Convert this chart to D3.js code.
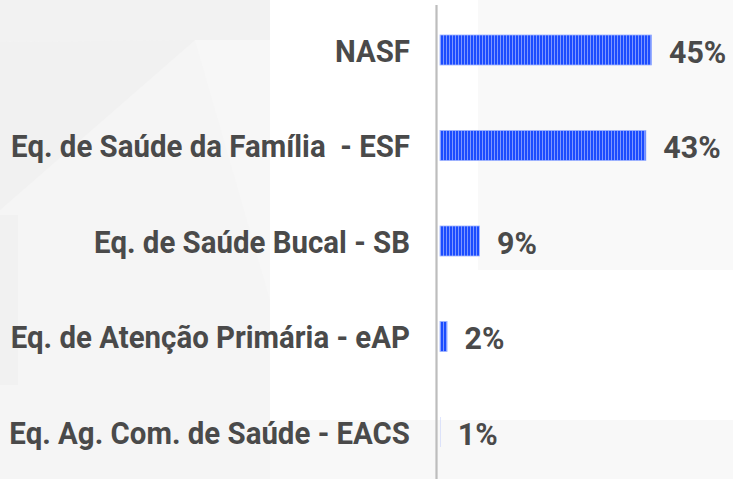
<!DOCTYPE html>
<html>
<head>
<meta charset="utf-8">
<script src="https://cdn.jsdelivr.net/npm/d3@7"></script>
<style>
  html, body { margin: 0; padding: 0; background: #ffffff; }
  svg { display: block; }
</style>
</head>
<body>
<svg id="chart" width="733" height="479"></svg>
<script>
// ---- data ----
const categories = [
  "NASF",
  "Eq. de Saúde da Família  - ESF",
  "Eq. de Saúde Bucal - SB",
  "Eq. de Atenção Primária - eAP",
  "Eq. Ag. Com. de Saúde - EACS"
];
const values = [45, 43.8, 8.4, 1.5, 0.05];
const valueLabels = ["45%", "43%", "9%", "2%", "1%"];

// ---- layout ----
const W = 733, H = 479;
const svg = d3.select("#chart");

// background decoration (subtle)
const bg = svg.append("g");
bg.append("rect").attr("x", 0).attr("y", 0).attr("width", W).attr("height", H).attr("fill", "#ffffff");
bg.append("rect").attr("x", 0).attr("y", 0).attr("width", 270).attr("height", H).attr("fill", "#f5f5f5");
bg.append("polygon").attr("points", "0,0 270,0 270,40 0,42").attr("fill", "#f2f2f2");
bg.append("polygon").attr("points", "0,42 195,40 0,210").attr("fill", "#f1f1f1");
bg.append("polygon").attr("points", "195,40 270,40 270,300").attr("fill", "#f7f7f7");
bg.append("polygon").attr("points", "0,215 18,215 18,385 0,385").attr("fill", "#f1f1f1");
bg.append("rect").attr("x", 478).attr("y", 0).attr("width", W - 478).attr("height", 270).attr("fill", "#f9f9f9");
bg.append("rect").attr("x", 270).attr("y", 420).attr("width", W - 270).attr("height", H - 420).attr("fill", "#f8f8f8");

// stripe pattern
const defs = svg.append("defs");
const pat = defs.append("pattern")
  .attr("id", "stripes")
  .attr("patternUnits", "userSpaceOnUse")
  .attr("width", 3).attr("height", 10);
pat.append("rect").attr("x", 0).attr("y", 0).attr("width", 3).attr("height", 10).attr("fill", "#1b4cff");
pat.append("rect").attr("x", 2).attr("y", 0).attr("width", 1).attr("height", 10).attr("fill", "#7d98ff");

// scales
const x = d3.scaleLinear().domain([0, 45]).range([440, 651.5]);
const y = d3.scalePoint().domain(categories).range([50, 432]);
const barH = 30;

const data = categories.map((c, i) => ({ c, v: values[i], label: valueLabels[i] }));

// bars
svg.append("g").selectAll("rect")
  .data(data).join("rect")
  .attr("x", x(0))
  .attr("y", d => y(d.c) - barH / 2)
  .attr("width", d => Math.max(0, x(d.v) - x(0)))
  .attr("height", barH)
  .attr("fill", "url(#stripes)")
  .attr("stroke", d => (x(d.v) - x(0)) > 2 ? "#9db2ff" : "none")
  .attr("stroke-width", 0.8);

// category axis line
svg.append("line")
  .attr("x1", 436.5).attr("x2", 436.5)
  .attr("y1", 5).attr("y2", H)
  .attr("stroke", "#bdbdbd").attr("stroke-width", 2.2);

const font = "Roboto, 'Noto Sans', sans-serif";

// category labels
svg.append("g").selectAll("text")
  .data(data).join("text")
  .attr("transform", d => `translate(410,${y(d.c) + 1}) scale(0.92,1)`)
  .attr("text-anchor", "end")
  .attr("dominant-baseline", "central")
  .attr("font-family", font)
  .attr("font-weight", 700)
  .attr("font-size", "32px")
  .attr("fill", "#4a4a4a")
  .attr("xml:space", "preserve")
  .style("white-space", "pre")
  .text(d => d.c);

// value labels
svg.append("g").selectAll("text")
  .data(data).join("text")
  .attr("transform", d => `translate(${x(d.v) + 17.5},${y(d.c) + 2}) scale(0.95,1)`)
  .attr("text-anchor", "start")
  .attr("dominant-baseline", "central")
  .attr("font-family", font)
  .attr("font-weight", 700)
  .attr("font-size", "32px")
  .attr("fill", "#4a4a4a")
  .text(d => d.label);
</script>
</body>
</html>
